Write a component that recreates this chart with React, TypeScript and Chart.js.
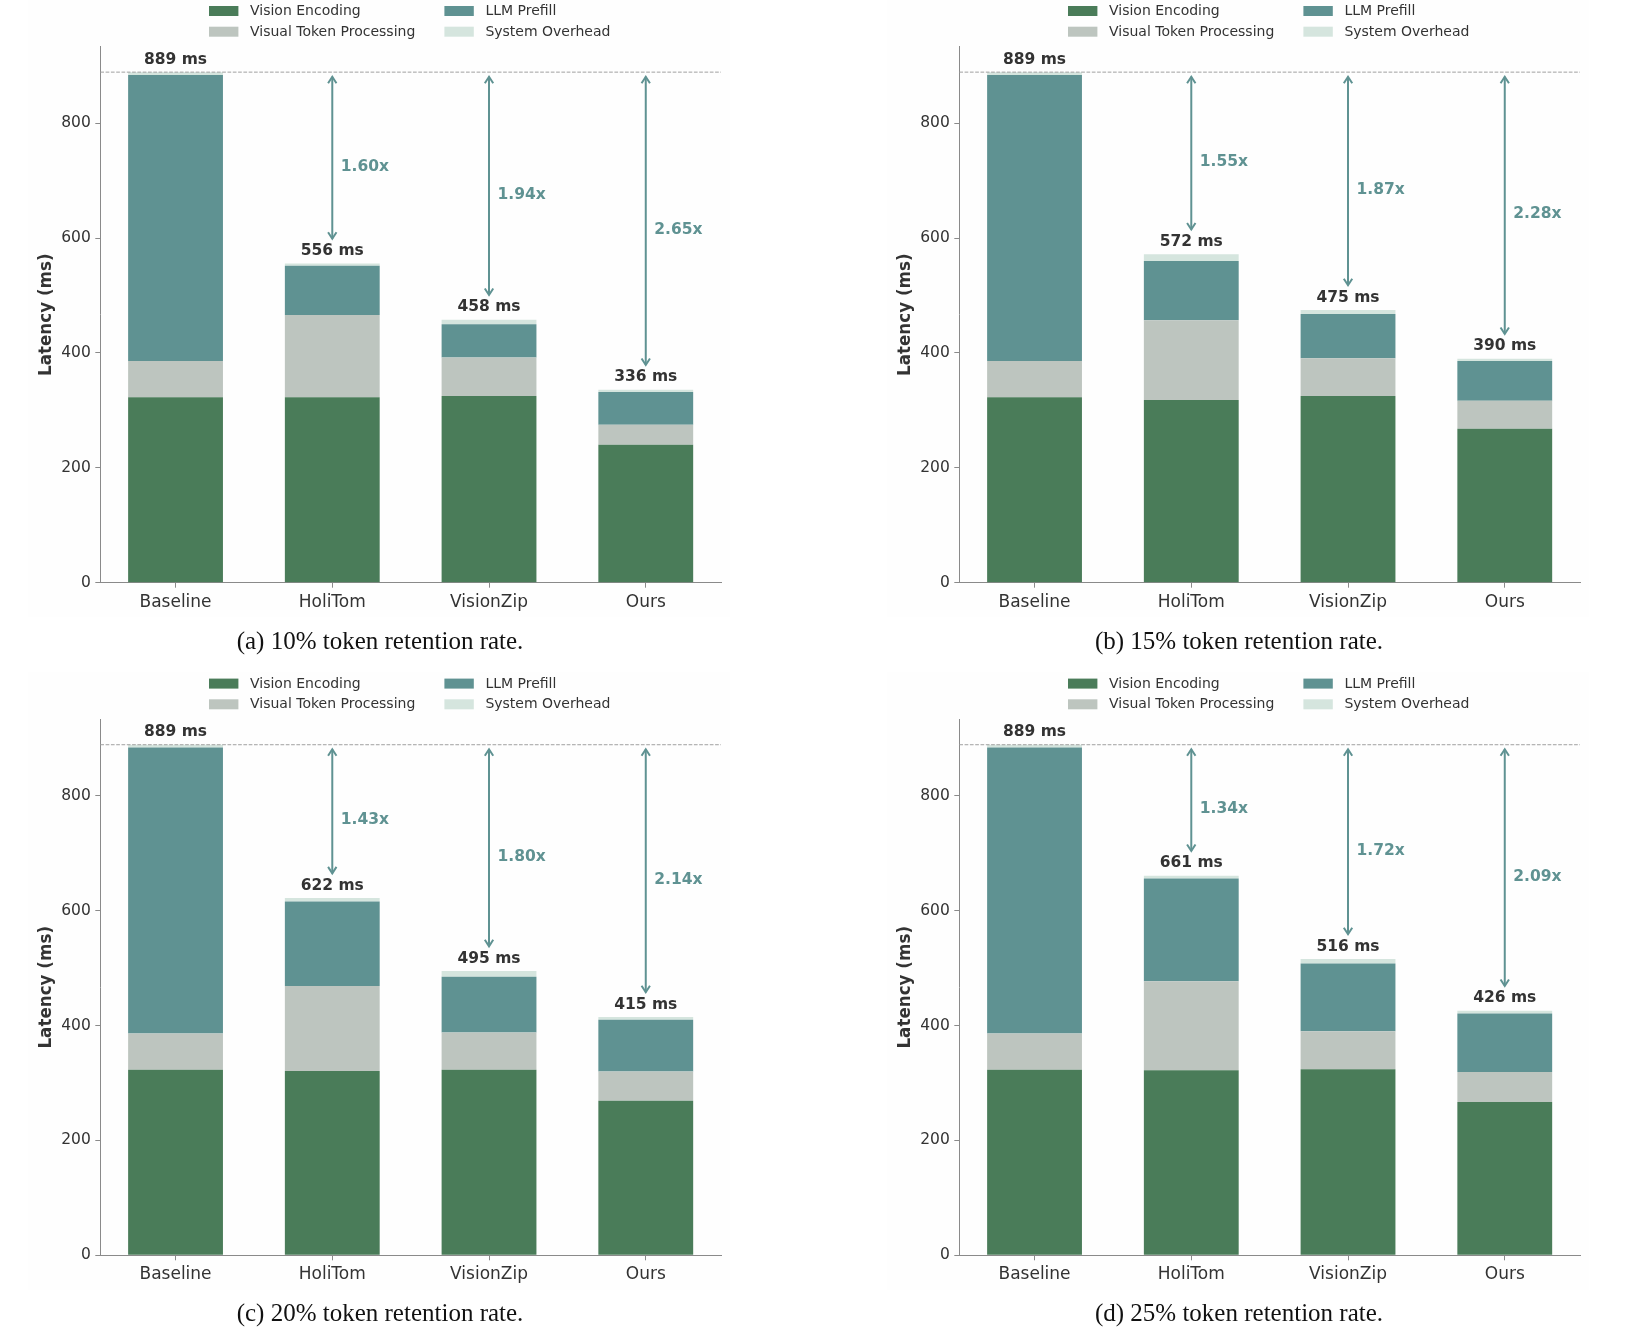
import React, { useEffect, useRef } from "react";
import { Chart, registerables } from "chart.js";

Chart.register(...registerables);

// ---------- data ----------
const categories = ["Baseline", "HoliTom", "VisionZip", "Ours"];
const seriesLabels = ["Vision Encoding", "Visual Token Processing", "LLM Prefill", "System Overhead"];
const yTickValues = [0, 200, 400, 600, 800];

// (a) 10% retention
const visionEncodingA = [323, 323, 325, 240];
const visualTokenA = [63, 143, 67, 35];
const llmPrefillA = [498, 86, 58, 57];
const overheadA = [5, 4, 8, 4];
const totalsA = [889, 556, 458, 336];
const speedupsA = ["", "1.60x", "1.94x", "2.65x"];

// (b) 15% retention
const visionEncodingB = [323, 318, 325, 268];
const visualTokenB = [63, 139, 66, 49];
const llmPrefillB = [498, 103, 77, 69];
const overheadB = [5, 12, 7, 4];
const totalsB = [889, 572, 475, 390];
const speedupsB = ["", "1.55x", "1.87x", "2.28x"];

// (c) 20% retention
const visionEncodingC = [323, 321, 323, 269];
const visualTokenC = [63, 148, 65, 51];
const llmPrefillC = [498, 147, 97, 90];
const overheadC = [5, 6, 10, 5];
const totalsC = [889, 622, 495, 415];
const speedupsC = ["", "1.43x", "1.80x", "2.14x"];

// (d) 25% retention
const visionEncodingD = [323, 322, 324, 267];
const visualTokenD = [63, 155, 66, 52];
const llmPrefillD = [498, 179, 118, 102];
const overheadD = [5, 5, 8, 5];
const totalsD = [889, 661, 516, 426];
const speedupsD = ["", "1.34x", "1.72x", "2.09x"];

const captionA = "(a) 10% token retention rate.";
const captionB = "(b) 15% token retention rate.";
const captionC = "(c) 20% token retention rate.";
const captionD = "(d) 25% token retention rate.";

// ---------- style ----------
const COLORS = ["#4a7c59", "#bdc5bf", "#5f9292", "#d5e5de"];
const TEAL = "#5f9292";
const TEXT = "#333333";
const AXIS = "#8a8a8a";
const FONT = '"DejaVu Sans", "Liberation Sans", sans-serif';
const PANEL_W = 775;
const PANEL_H = 672;
const Y_MAX = 933.45;

type PanelProps = {
  left: number;
  top: number;
  dy: number;
  series: number[][];
  totals: number[];
  speedups: string[];
  caption: string;
};

function Panel({ left, top, dy, series, totals, speedups, caption }: PanelProps) {
  const ref = useRef<HTMLCanvasElement | null>(null);

  useEffect(() => {
    const canvas = ref.current;
    if (!canvas) return;

    const overlay = {
      id: "overlay",
      beforeDraw(chart: any) {
        const ctx = chart.ctx;
        ctx.save();
        ctx.fillStyle = "#ffffff";
        ctx.fillRect(0, 0, chart.width, chart.height);
        ctx.fillStyle = "#fefefe";
        ctx.fillRect(28, 0, 702, 617 + dy);
        ctx.restore();
      },
      afterDraw(chart: any) {
        const ctx = chart.ctx;
        const xs = chart.scales.x;
        const ys = chart.scales.y;
        const area = chart.chartArea;
        ctx.save();

        // baseline dashed line
        const yBase = ys.getPixelForValue(totals[0]);
        ctx.strokeStyle = "#a0a0a0";
        ctx.lineWidth = 1;
        ctx.setLineDash([3.7, 1.6]);
        ctx.beginPath();
        ctx.moveTo(area.left, yBase);
        ctx.lineTo(area.right, yBase);
        ctx.stroke();
        ctx.setLineDash([]);

        // total labels
        ctx.fillStyle = TEXT;
        ctx.font = `bold 15.5px ${FONT}`;
        ctx.textAlign = "center";
        ctx.textBaseline = "alphabetic";
        totals.forEach((t, i) => {
          const x = xs.getPixelForValue(i);
          const y = ys.getPixelForValue(t);
          ctx.fillText(`${t} ms`, x, y - 8.3);
        });

        // arrows + speedups
        totals.forEach((t, i) => {
          if (i === 0) return;
          const x = xs.getPixelForValue(i);
          const yTop = ys.getPixelForValue(totals[0] - 8);
          const yBot = ys.getPixelForValue(t + 43);
          ctx.strokeStyle = TEAL;
          ctx.lineWidth = 2;
          ctx.lineJoin = "miter";
          ctx.beginPath();
          ctx.moveTo(x, yTop);
          ctx.lineTo(x, yBot);
          ctx.stroke();
          ctx.beginPath();
          ctx.moveTo(x - 4.2, yTop + 6.5);
          ctx.lineTo(x, yTop);
          ctx.lineTo(x + 4.2, yTop + 6.5);
          ctx.stroke();
          ctx.beginPath();
          ctx.moveTo(x - 4.2, yBot - 6.5);
          ctx.lineTo(x, yBot);
          ctx.lineTo(x + 4.2, yBot - 6.5);
          ctx.stroke();

          ctx.fillStyle = TEAL;
          ctx.font = `bold 15.5px ${FONT}`;
          ctx.textAlign = "left";
          ctx.textBaseline = "middle";
          ctx.fillText(speedups[i], x + 8.5, ys.getPixelForValue((totals[0] + t) / 2) - 1);
        });

        // y title
        ctx.save();
        ctx.translate(46.7, (area.top + area.bottom) / 2);
        ctx.rotate(-Math.PI / 2);
        ctx.fillStyle = TEXT;
        ctx.font = `bold 16.75px ${FONT}`;
        ctx.textAlign = "center";
        ctx.textBaseline = "middle";
        ctx.fillText("Latency (ms)", 0, 0);
        ctx.restore();

        // legend (2 columns, column-major)
        const colX = [209, 444.4];
        const rowY = [11 + dy, 31.7 + dy];
        const slots = [
          [0, 0],
          [0, 1],
          [1, 0],
          [1, 1],
        ];
        chart.data.datasets.forEach((ds: any, k: number) => {
          const cx = colX[slots[k][0]];
          const cy = rowY[slots[k][1]];
          ctx.fillStyle = ds.backgroundColor;
          ctx.fillRect(cx, cy - 5, 29.4, 10);
          ctx.fillStyle = TEXT;
          ctx.font = `14px ${FONT}`;
          ctx.textAlign = "left";
          ctx.textBaseline = "middle";
          ctx.fillText(ds.label, cx + 41, cy + 0.5);
        });

        ctx.restore();
      },
    };

    const chart = new Chart(canvas, {
      type: "bar",
      data: {
        datasets: seriesLabels.map((label, k) => ({
          label,
          data: series[k].map((v, i) => ({ x: i, y: v })),
          backgroundColor: COLORS[k],
          borderWidth: 0,
          barPercentage: 0.605,
          categoryPercentage: 1,
        })),
      },
      options: {
        responsive: false,
        animation: false,
        events: [],
        layout: {
          padding: { left: 40.3, right: 54, top: 46.6 + dy, bottom: PANEL_H - 582.7 - dy - 50 },
        },
        plugins: {
          legend: { display: false },
          tooltip: { enabled: false },
        },
        scales: {
          x: {
            type: "linear",
            stacked: true,
            offset: false,
            min: -0.48,
            max: 3.48,
            afterBuildTicks: (s: any) => {
              s.ticks = categories.map((_, i) => ({ value: i }));
            },
            afterFit: (s: any) => {
              s.height = 50;
            },
            grid: { offset: false, drawOnChartArea: false, drawTicks: true, tickLength: 5, color: AXIS },
            border: { display: true, color: AXIS, width: 1 },
            ticks: {
              padding: 4.2,
              color: TEXT,
              font: { family: FONT, size: 17 },
              maxRotation: 0,
              autoSkip: false,
              callback: (v: any) => categories[Math.round(Number(v))] ?? "",
            },
          },
          y: {
            type: "linear",
            stacked: true,
            min: 0,
            max: Y_MAX,
            afterBuildTicks: (s: any) => {
              s.ticks = yTickValues.map((v) => ({ value: v }));
            },
            afterFit: (s: any) => {
              s.width = 60;
            },
            grid: { drawOnChartArea: false, drawTicks: true, tickLength: 5, color: AXIS },
            border: { display: true, color: AXIS, width: 1 },
            ticks: {
              padding: 4.5,
              color: TEXT,
              font: { family: FONT, size: 15.5 },
              callback: (v: any) => String(v),
            },
          },
        },
      },
      plugins: [overlay],
    } as any);

    return () => chart.destroy();
  }, []);

  return (
    <>
      <canvas
        ref={ref}
        width={PANEL_W}
        height={PANEL_H}
        style={{ position: "absolute", left, top, width: PANEL_W, height: PANEL_H }}
      />
      <div
        style={{
          position: "absolute",
          left: left + 380 - 300,
          top: top + dy + 627.7,
          width: 600,
          textAlign: "center",
          fontFamily: '"Liberation Serif", "Times New Roman", serif',
          fontSize: 25,
          lineHeight: "25px",
          color: "#111",
          whiteSpace: "nowrap",
        }}
      >
        {caption}
      </div>
    </>
  );
}

export default function App() {
  useEffect(() => {
    document.body.style.margin = "0";
    document.body.style.background = "#ffffff";
  }, []);

  return (
    <div style={{ position: "relative", width: 1634, height: 1344, background: "#ffffff", overflow: "hidden" }}>
      <Panel
        left={0}
        top={0}
        dy={0}
        series={[visionEncodingA, visualTokenA, llmPrefillA, overheadA]}
        totals={totalsA}
        speedups={speedupsA}
        caption={captionA}
      />
      <Panel
        left={859}
        top={0}
        dy={0}
        series={[visionEncodingB, visualTokenB, llmPrefillB, overheadB]}
        totals={totalsB}
        speedups={speedupsB}
        caption={captionB}
      />
      <Panel
        left={0}
        top={672}
        dy={0.6}
        series={[visionEncodingC, visualTokenC, llmPrefillC, overheadC]}
        totals={totalsC}
        speedups={speedupsC}
        caption={captionC}
      />
      <Panel
        left={859}
        top={672}
        dy={0.6}
        series={[visionEncodingD, visualTokenD, llmPrefillD, overheadD]}
        totals={totalsD}
        speedups={speedupsD}
        caption={captionD}
      />
    </div>
  );
}
